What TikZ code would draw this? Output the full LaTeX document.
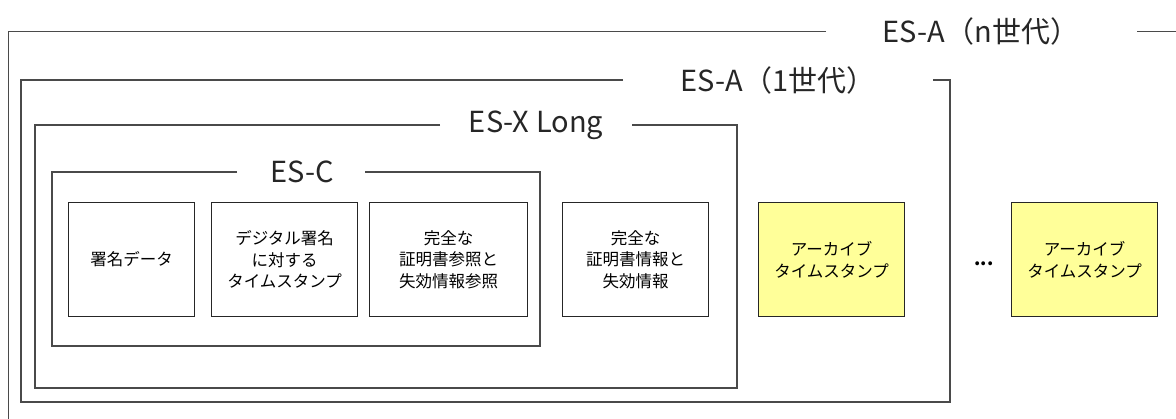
\documentclass[tikz,border=0pt]{standalone}
\usepackage{fontspec}
\setmainfont{Noto Sans CJK JP}
\definecolor{framegray}{HTML}{4A4A4A}
\definecolor{archyellow}{HTML}{FFFF99}
\begin{document}
\begin{tikzpicture}[x=1pt,y=-1pt,
  frame/.style={draw=framegray,line width=1.4pt},
  elabel/.style={font=\fontsize{29}{31}\selectfont,inner sep=0pt,text=black!85},
  itembox/.style={draw=black!85,line width=1.3pt,align=center,inner sep=0pt,
    font=\fontsize{16.5}{21.5}\selectfont,anchor=north west},
  archbox/.style={itembox,fill=archyellow}]
\useasboundingbox (0,0) rectangle (1176,419);
% ES-A (n) outer frame
\node[elabel] (lan) at (981,31) {ES-A（n世代）};
\coordinate (anl1) at (826,31.5);
\coordinate (anc1) at (8.5,31.5);
\coordinate (anc2) at (8.5,419);
\coordinate (anr1) at (1137,31.5);
\coordinate (anr2) at (1176,31.5);
\draw[frame] (anl1) -- (anc1) -- (anc2);
\draw[frame] (anr1) -- (anr2);
% ES-A (1)
\node[elabel] (la1) at (778,80) {ES-A（1世代）};
\coordinate (a1l) at (623,80);
\coordinate (a1tl) at (21,80);
\coordinate (a1bl) at (21,402);
\coordinate (a1br) at (950,402);
\coordinate (a1tr) at (950,80);
\coordinate (a1r) at (933,80);
\draw[frame] (a1l) -- (a1tl) -- (a1bl) -- (a1br) -- (a1tr) -- (a1r);
% ES-X Long
\node[elabel] (lx) at (536,125) {ES-X Long};
\coordinate (xl) at (440,125);
\coordinate (xtl) at (35,125);
\coordinate (xbl) at (35,388);
\coordinate (xbr) at (737,388);
\coordinate (xtr) at (737,125);
\coordinate (xr) at (632,125);
\draw[frame] (xl) -- (xtl) -- (xbl) -- (xbr) -- (xtr) -- (xr);
% ES-C
\node[elabel] (lc) at (302,172) {ES-C};
\coordinate (cl) at (237,172);
\coordinate (ctl) at (52,172);
\coordinate (cbl) at (52,346);
\coordinate (cbr) at (540,346);
\coordinate (ctr) at (540,172);
\coordinate (cr) at (365,172);
\draw[frame] (cl) -- (ctl) -- (cbl) -- (cbr) -- (ctr) -- (cr);
% boxes
\node[itembox,minimum width=126pt,minimum height=114pt] (b1) at (68,202) {署名データ};
\node[itembox,minimum width=146pt,minimum height=114pt] (b2) at (211,202) {デジタル署名\\に対する\\タイムスタンプ};
\node[itembox,minimum width=158pt,minimum height=114pt] (b3) at (369,202) {完全な\\証明書参照と\\失効情報参照};
\node[itembox,minimum width=146pt,minimum height=114pt] (b4) at (562,202) {完全な\\証明書情報と\\失効情報};
\node[archbox,minimum width=146pt,minimum height=114pt] (b5) at (758,202) {アーカイブ\\タイムスタンプ};
\node[archbox,minimum width=146pt,minimum height=114pt] (b6) at (1011,202) {アーカイブ\\タイムスタンプ};
\node[font=\fontsize{18}{20}\selectfont\bfseries,inner sep=0pt] (dots) at (984,264) {...};
\end{tikzpicture}
\end{document}
